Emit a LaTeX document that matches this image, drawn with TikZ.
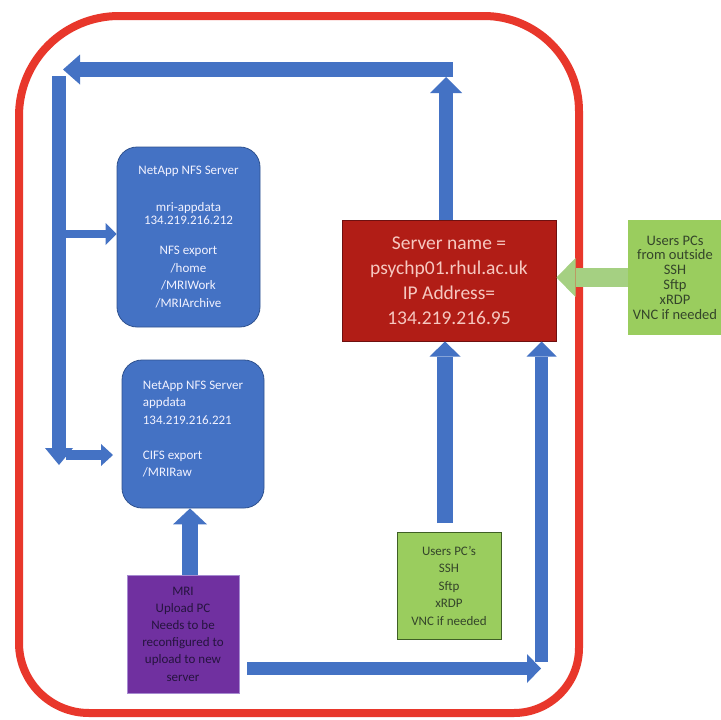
\documentclass[tikz,border=0pt]{standalone}
\usepackage{fontspec}
\setmainfont{Carlito}
\usetikzlibrary{arrows.meta,calc}
\definecolor{framered}{HTML}{E8372B}
\definecolor{nasblue}{HTML}{4472C4}
\definecolor{nasedge}{HTML}{2F528F}
\definecolor{srvred}{HTML}{B11D16}
\definecolor{srvedge}{HTML}{6E1010}
\definecolor{srvtext}{HTML}{F6C8C0}
\definecolor{pcgreen}{HTML}{9ACD5E}
\definecolor{pcedge}{HTML}{3F5F25}
\definecolor{pctext}{HTML}{34452A}
\definecolor{arrgreen}{HTML}{A5D082}
\definecolor{uplpurple}{HTML}{7030A0}
\definecolor{upledge}{HTML}{A68AD0}
\definecolor{upltext}{HTML}{26143F}
\begin{document}
\begin{tikzpicture}[x=1pt,y=-1pt,
  nasbox/.style={draw=nasedge,line width=0.8pt,fill=nasblue,rounded corners=20pt,
    text=white!95!blue,inner sep=0pt,minimum width=#1},
  srvbox/.style={draw=srvedge,line width=1pt,fill=srvred,text=srvtext,inner sep=0pt,
    align=center,font=\fontsize{19.5}{25}\selectfont},
  pcbox/.style={fill=pcgreen,text=pctext,inner sep=0pt,align=center},
  uplbox/.style={draw=upledge,line width=0.8pt,fill=uplpurple,text=upltext,inner sep=0pt,
    align=center,font=\fontsize{13}{17.2}\selectfont},
  barrow/.style n args={4}{draw=#4,line width=#1,
    -{Triangle[length=#3,width=#2,line width=0pt]}},
  framestyle/.style={draw=framered,line width=8pt}
]
\useasboundingbox (0,0) rectangle (721,720);
\fill[white] (0,0) rectangle (721,720);

% outer frame
\draw[framestyle] (19,116) arc[start angle=180,end angle=270,radius=100]
  -- (484,16) arc[start angle=270,end angle=360,radius=95]
  -- (579,648) arc[start angle=0,end angle=90,radius=65]
  -- (89,713) arc[start angle=90,end angle=180,radius=70] -- cycle;

% nodes
\node[nasbox=143pt,minimum height=180pt,align=center,
  font=\fontsize{13}{17.5}\selectfont] (nas1) at (188.5,237)
  {NetApp NFS Server\\[19.5pt]mri-appdata\\[-4.5pt]134.219.216.212\\[12.5pt]NFS export\\/home\\/MRIWork\\/MRIArchive};
\node[nasbox=142pt,minimum height=148pt,inner xsep=20pt,align=left,
  font=\fontsize{13}{17.5}\selectfont] (nas2) at (193,434)
  {NetApp NFS Server\\appdata\\134.219.216.221\\[17.5pt]CIFS export\\/MRIRaw\\[-7.5pt]\mbox{}};
\node[srvbox,minimum width=214pt,minimum height=121pt] (srv) at (449,280.5)
  {Server name =\\psychp01.rhul.ac.uk\\IP Address=\\134.219.216.95};
\node[pcbox,minimum width=94pt,minimum height=115pt,
  font=\fontsize{14.5}{14.8}\selectfont] (rg) at (675,277.5)
  {Users PCs\\from outside\\SSH\\Sftp\\xRDP\\VNC if needed};
\node[pcbox,draw=pcedge,line width=1pt,minimum width=104pt,minimum height=107pt,
  font=\fontsize{13}{17.5}\selectfont] (ug) at (449,585.5)
  {Users PC's\\SSH\\Sftp\\xRDP\\VNC if needed};
\node[uplbox,minimum width=112pt,minimum height=118pt] (upl) at (183,634)
  {MRI\\Upload PC\\Needs to be\\reconfigured to\\upload to new\\server};

% coordinates for the block arrows
\coordinate (tup) at (446,77);
\coordinate (tb0) at (453,69.5);
\coordinate (tb1) at (63,69.5);
\coordinate (lv0) at (59,76);
\coordinate (lv1) at (59,465);
\coordinate (b1s) at (66,234);
\coordinate (b2s) at (66,455);
\coordinate (b2e) at (113,455);
\coordinate (pup) at (190,509);
\coordinate (bb0) at (247,668.5);
\coordinate (bb1) at (541,668.5);
\coordinate (rv0) at (541.5,662);
\coordinate (gup) at (445,523);

% arrows
\draw[barrow={14pt}{32pt}{16pt}{nasblue}] (tup |- srv.north) -- (tup);
\draw[barrow={15pt}{30pt}{17pt}{nasblue}] (tb0) -- (tb1);
\draw[barrow={14pt}{28pt}{17pt}{nasblue}] (lv0) -- (lv1);
\draw[barrow={8pt}{22pt}{11pt}{nasblue}] (b1s) -- (b1s -| nas1.west);
\draw[barrow={10pt}{22pt}{12pt}{nasblue}] (b2s) -- (b2e);
\draw[barrow={16pt}{34pt}{16pt}{nasblue}] (pup |- upl.north) -- (pup |- nas2.south);
\draw[barrow={13pt}{30pt}{15pt}{nasblue}] (rv0) -- (rv0 |- srv.south);
\draw[barrow={13pt}{29pt}{14pt}{nasblue}] (bb0) -- (bb1);
\draw[barrow={16pt}{31pt}{15pt}{nasblue}] (gup) -- (gup |- srv.south);
\draw[barrow={19pt}{39pt}{19pt}{arrgreen}] (rg.west) -- (rg.west -| srv.east);
\end{tikzpicture}
\end{document}
